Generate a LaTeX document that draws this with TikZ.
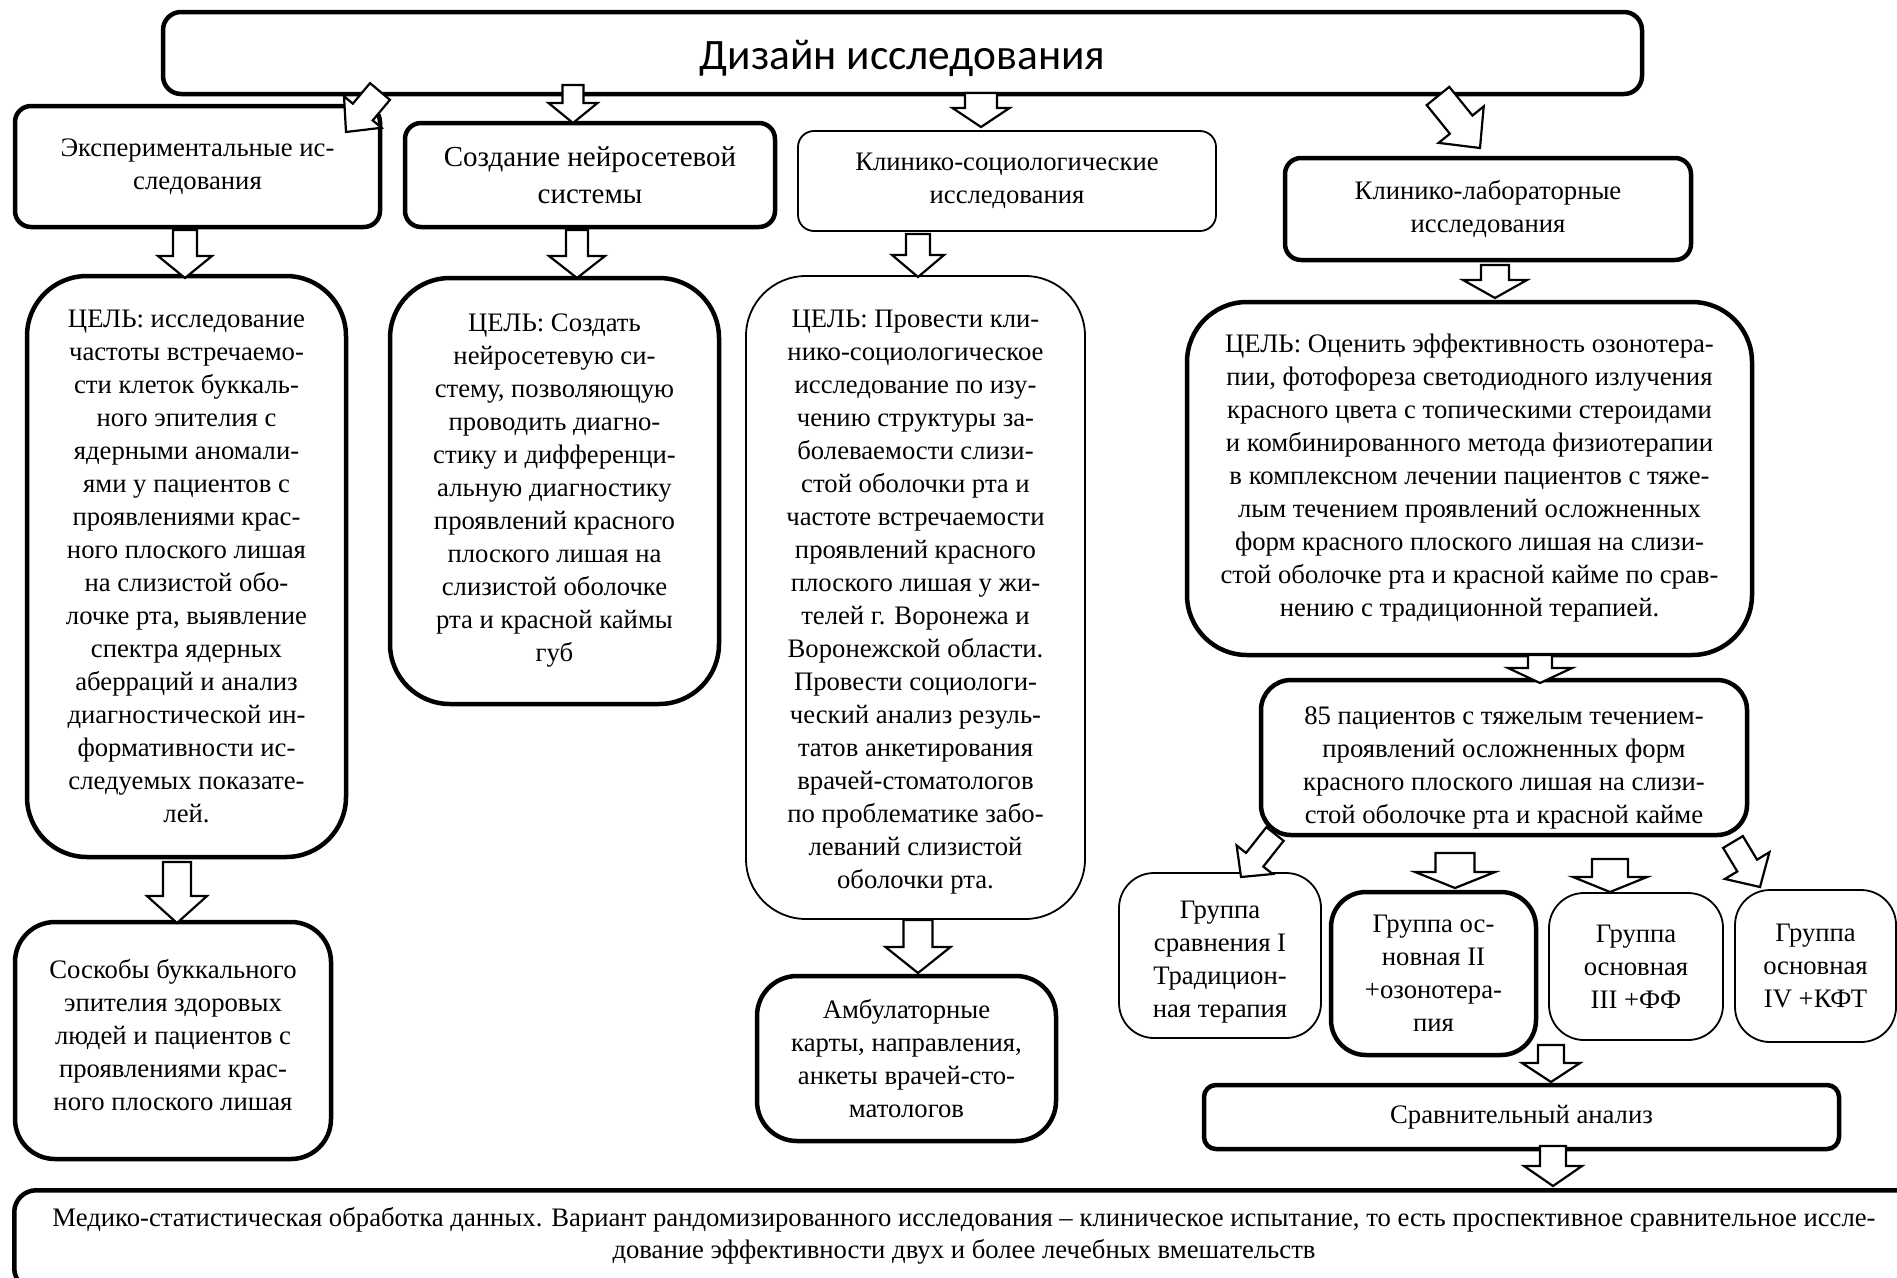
\documentclass[tikz,border=0pt]{standalone}
\usepackage{fontspec}
\setmainfont{Liberation Serif}
\newfontfamily\titlefont{Carlito}
\usetikzlibrary{calc}
\tikzset{
  rbox/.style={draw, rounded corners=#1, align=center, inner sep=0pt, font=\fontsize{26.7}{33}\selectfont},
  txt/.style={align=center, inner sep=0pt, font=\fontsize{26.7}{33}\selectfont},
  thk/.style={line width=4.5pt},
  thn/.style={line width=1.8pt},
  barrowst/.style={draw, fill=white, line width=2.2pt, line join=miter},
}
% block arrow: #1 tail, #2 tip, #3 half shaft, #4 half head, #5 head length
\newcommand\barrow[5]{%
 \draw[barrowst] let \p1=(#1), \p2=(#2), \n1={atan2(\y2-\y1,\x2-\x1)}, \n2={veclen(\x2-\x1,\y2-\y1)} in
  ($(\p1)+(\n1+90:#3)$) -- ($(\p1)+(\n1:{\n2-#5})+(\n1+90:#3)$) -- ($(\p1)+(\n1:{\n2-#5})+(\n1+90:#4)$) -- (\p2) -- ($(\p1)+(\n1:{\n2-#5})+(\n1-90:#4)$) -- ($(\p1)+(\n1:{\n2-#5})+(\n1-90:#3)$) -- ($(\p1)+(\n1-90:#3)$) -- cycle;}
\begin{document}
\begin{tikzpicture}[x=1pt,y=-1pt]
\path[fill=white,use as bounding box] (0,0) rectangle (1897,1277);

% boxes
\node[rbox=18pt, thk, minimum width=1479pt, minimum height=82pt] (title) at (902.5,53) {};
\node[txt, font=\titlefont\fontsize{43.4}{50}\selectfont] (titletext) at ([yshift=-5pt]title.center) {Дизайн исследования};

\node[rbox=16pt, thk, minimum width=365pt, minimum height=121pt] (exp) at (197.5,166.5) {Экспериментальные ис-\\следования};
\node[rbox=16pt, thk, minimum width=370pt, minimum height=104pt, font=\fontsize{29}{37}\selectfont] (sozd) at (590,175) {Создание нейросетевой\\системы};
\node[rbox=16pt, thn, minimum width=418pt, minimum height=100pt] (klsoc) at (1007,181) {Клинико-социологические\\исследования};
\node[rbox=16pt, thk, minimum width=406pt, minimum height=102pt] (kllab) at (1488,209) {Клинико-лабораторные\\исследования};

\node[rbox=60pt, thk, minimum width=319pt, minimum height=581pt] (goal1) at (186.5,566.5) {ЦЕЛЬ: исследование\\частоты встречаемо-\\сти клеток буккаль-\\ного эпителия с\\ядерными аномали-\\ями у пациентов с\\проявлениями крас-\\ного плоского лишая\\на слизистой обо-\\лочке рта, выявление\\спектра ядерных\\аберраций и анализ\\диагностической ин-\\формативности ис-\\следуемых показате-\\лей.};
\node[rbox=60pt, thk, minimum width=329pt, minimum height=426pt] (goal2) at (554.5,491) {ЦЕЛЬ: Создать\\нейросетевую си-\\стему, позволяющую\\проводить диагно-\\стику и дифференци-\\альную диагностику\\проявлений красного\\плоского лишая на\\слизистой оболочке\\рта и красной каймы\\губ};
\node[rbox=60pt, thn, minimum width=339pt, minimum height=643pt] (goal3) at (915.5,597.5) {};
\node[txt] (goal3text) at ([yshift=-5pt]goal3.center) {ЦЕЛЬ: Провести кли-\\нико-социологическое\\исследование по изу-\\чению структуры за-\\болеваемости слизи-\\стой оболочки рта и\\частоте встречаемости\\проявлений красного\\плоского лишая у жи-\\телей г. Воронежа и\\Воронежской области.\\Провести социологи-\\ческий анализ резуль-\\татов анкетирования\\врачей-стоматологов\\по проблематике забо-\\леваний слизистой\\оболочки рта.};
\node[rbox=60pt, thk, minimum width=565pt, minimum height=353pt] (goal4) at (1469.5,478.5) {ЦЕЛЬ: Оценить эффективность озонотера-\\пии, фотофореза светодиодного излучения\\красного цвета с топическими стероидами\\и комбинированного метода физиотерапии\\в комплексном лечении пациентов с тяже-\\лым течением проявлений осложненных\\форм красного плоского лишая на слизи-\\стой оболочке рта и красной кайме по срав-\\нению с традиционной терапией.};

\node[rbox=30pt, thk, minimum width=486pt, minimum height=155pt] (pat) at (1504,757.5) {};
\node[txt] (pattext) at ([yshift=-10pt]pat.center) {85 пациентов с тяжелым течением-\\проявлений осложненных форм\\красного плоского лишая на слизи-\\стой оболочке рта и красной кайме};

\node[rbox=35pt, thn, minimum width=202pt, minimum height=165pt] (g1) at (1220,955.5) {};
\node[txt] (g1text) at ([yshift=-7pt]g1.center) {Группа\\сравнения I\\Традицион-\\ная терапия};
\node[rbox=35pt, thk, minimum width=205pt, minimum height=163pt] (g2) at (1433.5,973.5) {Группа ос-\\новная II\\+озонотера-\\пия};
\node[rbox=35pt, thn, minimum width=174pt, minimum height=147pt] (g3) at (1636,966.5) {Группа\\основная\\III +ФФ};
\node[rbox=35pt, thn, minimum width=161pt, minimum height=152pt] (g4) at (1815.5,966) {Группа\\основная\\IV +КФТ};

\node[rbox=12pt, thk, minimum width=635pt, minimum height=64pt] (sravn) at (1521.5,1117) {Сравнительный анализ};

\node[rbox=40pt, thk, minimum width=316pt, minimum height=237pt] (skob) at (173,1040.5) {};
\node[txt] (skobtext) at ([yshift=5pt]skob.center) {Соскобы буккального\\эпителия здоровых\\людей и пациентов с\\проявлениями крас-\\ного плоского лишая};
\node[rbox=40pt, thk, minimum width=299pt, minimum height=165pt] (amb) at (906.5,1058.5) {Амбулаторные\\карты, направления,\\анкеты врачей-сто-\\матологов};

\node[rbox=22pt, thk, minimum width=1904pt, minimum height=100pt, anchor=north west] (stat) at (12,1188) {};
\node[txt, font=\fontsize{26.7}{31.5}\selectfont] (stattext) at (964,1236) {Медико-статистическая обработка данных. Вариант рандомизированного исследования – клиническое испытание, то есть проспективное сравнительное иссле-\\дование эффективности двух и более лечебных вмешательств};

% arrow end points
\coordinate (a1t) at (380,91.5);   \coordinate (a1h) at (346,132);
\coordinate (a2t) at (573,85);     \coordinate (a2h) at (573,123);
\coordinate (a3t) at (981,93);     \coordinate (a3h) at (981,127);
\coordinate (a4t) at (1438,96);    \coordinate (a4h) at (1480,148);
\coordinate (a5t) at (185,230);    \coordinate (a5h) at (185,278);
\coordinate (a6t) at (577,230);    \coordinate (a6h) at (577,278);
\coordinate (a7t) at (918,234);    \coordinate (a7h) at (918,277);
\coordinate (a8t) at (1495,265);   \coordinate (a8h) at (1495,298);
\coordinate (a9t) at (1540,655);   \coordinate (a9h) at (1540,683);
\coordinate (a10t) at (177,862);   \coordinate (a10h) at (177,923);
\coordinate (a11t) at (918,920);   \coordinate (a11h) at (918,973);
\coordinate (a12t) at (1275,834);  \coordinate (a12h) at (1241,877);
\coordinate (a13t) at (1455,853);  \coordinate (a13h) at (1455,888);
\coordinate (a14t) at (1610,859);  \coordinate (a14h) at (1610,892);
\coordinate (a15t) at (1733,842);  \coordinate (a15h) at (1760,887);
\coordinate (a16t) at (1551,1045); \coordinate (a16h) at (1551,1082);
\coordinate (a17t) at (1553,1146); \coordinate (a17h) at (1553,1186);

\barrow{a1t}{a1h}{13pt}{24.5pt}{26pt}
\barrow{a2t}{a2h}{10.5pt}{24.5pt}{20pt}
\barrow{a3t}{a3h}{16pt}{28.5pt}{19pt}
\barrow{a4t}{a4h}{14.5pt}{29pt}{30pt}
\barrow{a5t}{a5h}{12pt}{27pt}{22pt}
\barrow{a6t}{a6h}{11pt}{28pt}{22pt}
\barrow{a7t}{a7h}{12pt}{26pt}{22pt}
\barrow{a8t}{a8h}{14pt}{32pt}{18pt}
\barrow{a9t}{a9h}{12pt}{32pt}{15pt}
\barrow{a10t}{a10h}{14pt}{30pt}{27pt}
\barrow{a11t}{a11h}{14.5pt}{32.5pt}{26pt}
\barrow{a12t}{a12h}{11pt}{23pt}{22pt}
\barrow{a13t}{a13h}{19.5pt}{40pt}{16pt}
\barrow{a14t}{a14h}{18pt}{37pt}{15pt}
\barrow{a15t}{a15h}{11.5pt}{26pt}{25pt}
\barrow{a16t}{a16h}{13pt}{29pt}{19pt}
\barrow{a17t}{a17h}{13pt}{29pt}{20pt}
\end{tikzpicture}
\end{document}
